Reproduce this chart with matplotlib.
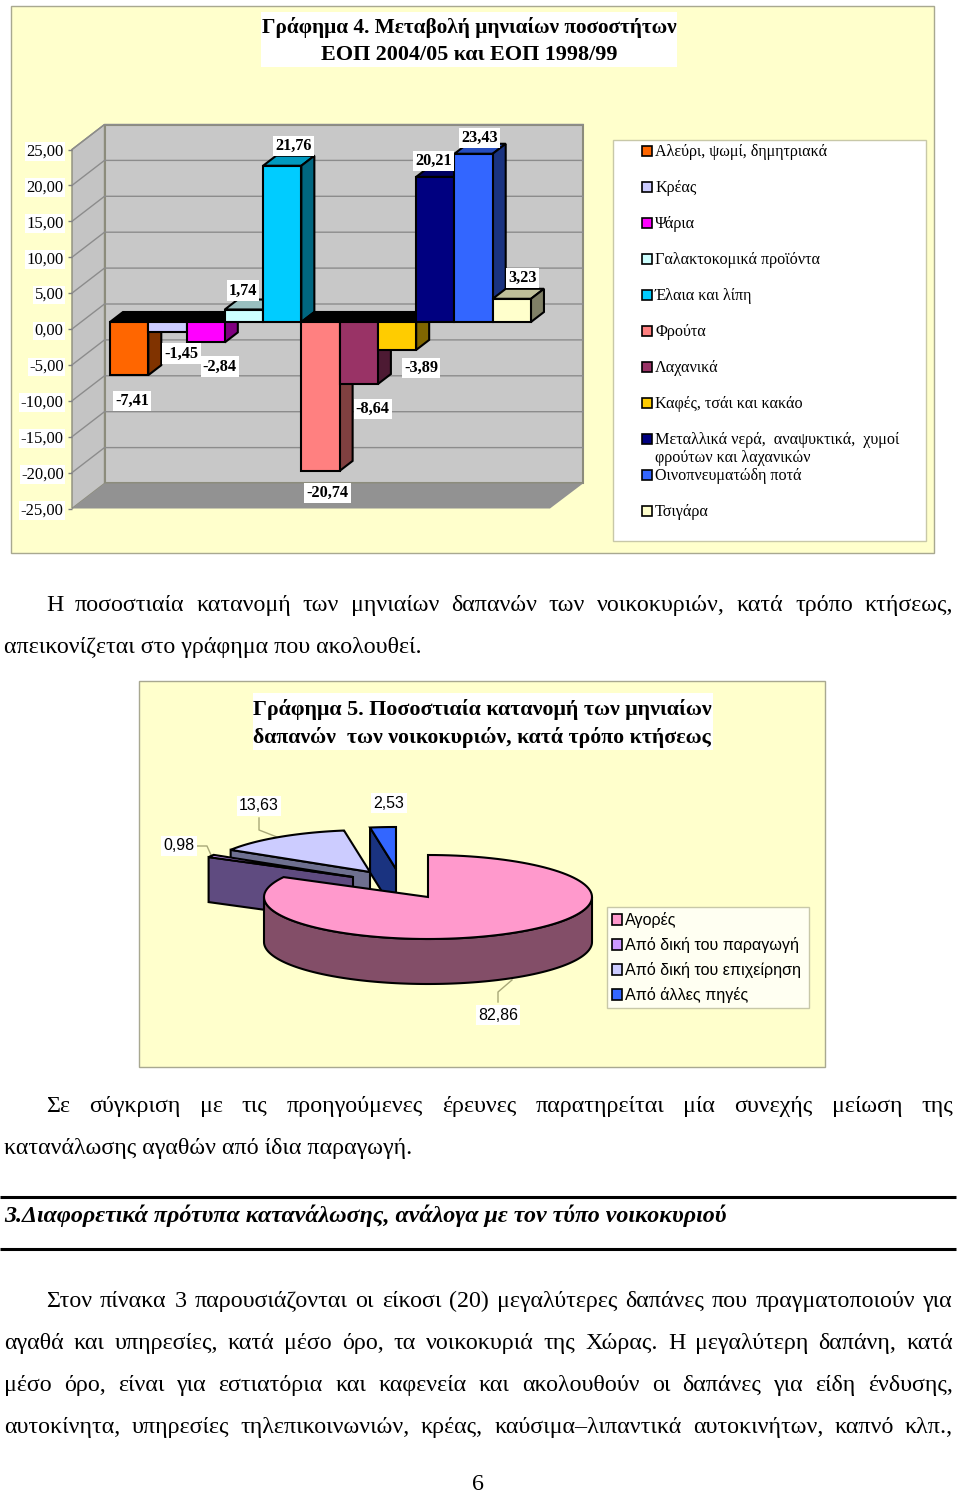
#!/usr/bin/env python3

import numpy as np
import matplotlib
matplotlib.use("Agg")
import matplotlib.pyplot as plt
from matplotlib.patches import Polygon, Rectangle

W, H = 960, 1494

bar_names = ["Αλεύρι, ψωμί, δημητριακά", "Κρέας", "Ψάρια", "Γαλακτοκομικά προϊόντα",
             "Έλαια και λίπη", "Φρούτα", "Λαχανικά", "Καφές, τσάι και κακάο",
             "Μεταλλικά νερά,  αναψυκτικά,  χυμοί\nφρούτων και λαχανικών",
             "Οινοπνευματώδη ποτά", "Τσιγάρα"]
bar_values = [-7.41, -1.45, -2.84, 1.74, 21.76, -20.74, -8.64, -3.89, 20.21, 23.43, 3.23]
bar_colors = ["#FF6600", "#CCCCFF", "#FF00FF", "#CCFFFF", "#00CCFF", "#FF8080",
              "#993366", "#FFCC00", "#000080", "#3366FF", "#FFFFCC"]
bar_label_shift = [(3, 26), (14, 21), (14, 24), (-1, -19), (11, -20), (7, 22),
                   (14, 25), (24, 18), (-2, -16), (6, -16), (11, -21)]
axis_ticks = [25, 20, 15, 10, 5, 0, -5, -10, -15, -20, -25]

pie_names = ["Αγορές", "Από δική του παραγωγή", "Από δική του επιχείρηση", "Από άλλες πηγές"]
pie_values = [82.86, 0.98, 13.63, 2.53]
pie_top = ["#FF99CC", "#CC99FF", "#CCCCFF", "#3366FF"]
pie_side = ["#834E68", "#5F4B80", "#6E7090", "#1A3380"]

PAGE_FONT = "Liberation Serif"
SANS_FONT = "Liberation Sans"
BODY_SIZE = 17.3
CREAM = "#FFFFCC"
BOX_EDGE = "#A8A890"

fig = plt.figure(figsize=(W / 100, H / 100), dpi=100, facecolor="white")
page = fig.add_axes([0, 0, 1, 1])
page.set_xlim(0, W)
page.set_ylim(H, 0)
page.axis("off")


def box(x0, y0, x1, y1, fc, ec=BOX_EDGE, lw=1, z=1):
    page.add_patch(Rectangle((x0, y0), x1 - x0, y1 - y0, fc=fc, ec=ec, lw=lw, zorder=z))


def justified(words, x0, x1, y, size=BODY_SIZE):
    # spread the words over the full column like the printed page
    rend = fig.canvas.get_renderer()
    items = [page.text(x0, y, w, family=PAGE_FONT, fontsize=size, va="baseline") for w in words]
    widths = [t.get_window_extent(rend).width for t in items]
    gap = (x1 - x0 - sum(widths)) / (len(words) - 1)
    x = x0
    for t, w in zip(items, widths):
        t.set_x(x)
        x += w + gap


def plain(s, x, y, size=BODY_SIZE, **kw):
    kw.setdefault("family", PAGE_FONT)
    page.text(x, y, s, fontsize=size, va="baseline", **kw)


# ---- chart 4 frame
box(11, 6, 934, 553, CREAM)
box(261, 12, 677, 67, "white", ec="none", z=2)
page.text(469, 33, "Γράφημα 4. Μεταβολή μηνιαίων ποσοστήτων", family=PAGE_FONT, fontsize=15.3,
          fontweight="bold", ha="center", va="baseline", zorder=3)
page.text(469, 60, "ΕΟΠ 2004/05 και ΕΟΠ 1998/99", family=PAGE_FONT, fontsize=15.9,
          fontweight="bold", ha="center", va="baseline", zorder=3)
box(613, 140, 926, 541, "white", ec="#C8C8A8")

# bars live in their own axes: x = category slot, y = value
PX_PER_SLOT = 38.27
PX_PER_UNIT = 7.18
ZERO_Y = 322
ax = fig.add_axes([110 / W, 1 - (ZERO_Y + 25 * PX_PER_UNIT) / H,
                   11 * PX_PER_SLOT / W, 50 * PX_PER_UNIT / H])
ax.set_xlim(0, 11)
ax.set_ylim(-25, 25)
ax.axis("off")
DX = 13 / PX_PER_SLOT
DY = 10 / PX_PER_UNIT
# wall corners relative to the bar plane
FRONT_X, FRONT_DY = -38 / PX_PER_SLOT, -7 / PX_PER_UNIT
BACK_X, BACK_DY = -5.5 / PX_PER_SLOT, 18 / PX_PER_UNIT
RIGHT_FRONT = (550 - 110) / PX_PER_SLOT
RIGHT_BACK = (583 - 110) / PX_PER_SLOT


def poly(points, fc, ec="black", lw=1.5, z=2):
    ax.add_patch(Polygon(points, closed=True, fc=fc, ec=ec, lw=lw, zorder=z,
                         clip_on=False, joinstyle="miter"))


def shade(color, k):
    return tuple(c * k for c in matplotlib.colors.to_rgb(color))


wall_ec = "#8C8C7C"
poly([(BACK_X, -25 + BACK_DY), (RIGHT_BACK, -25 + BACK_DY), (RIGHT_BACK, 25 + BACK_DY),
      (BACK_X, 25 + BACK_DY)], "#C8C8C8", ec=wall_ec, lw=1.5, z=1)
poly([(FRONT_X, -25 + FRONT_DY), (BACK_X, -25 + BACK_DY), (BACK_X, 25 + BACK_DY),
      (FRONT_X, 25 + FRONT_DY)], "#C4C4C4", ec=wall_ec, lw=1, z=1)
poly([(FRONT_X, -25 + FRONT_DY), (RIGHT_FRONT, -25 + FRONT_DY), (RIGHT_BACK, -25 + BACK_DY),
      (BACK_X, -25 + BACK_DY)], "#929292", ec="none", lw=0, z=1)
for t in axis_ticks[:-1]:
    ax.plot([FRONT_X, BACK_X, RIGHT_BACK], [t + FRONT_DY, t + BACK_DY, t + BACK_DY],
            color="#8C8C8C", lw=1, zorder=1.5, clip_on=False)

for i, (v, c) in enumerate(zip(bar_values, bar_colors)):
    z = 2 + i * 0.01
    if v >= 0:
        poly([(i, v), (i + 1, v), (i + 1 + DX, v + DY), (i + DX, v + DY)], shade(c, 0.75), z=z)
    else:
        poly([(i, 0), (i + 1, 0), (i + 1 + DX, DY), (i + DX, DY)], "black", z=z)
    poly([(i + 1, 0), (i + 1, v), (i + 1 + DX, v + DY), (i + 1 + DX, DY)], shade(c, 0.5), z=z)
for i, (v, c) in enumerate(zip(bar_values, bar_colors)):
    ax.bar(i + 0.5, v, width=1, color=c, edgecolor="black", linewidth=1.5, zorder=3 + i * 0.01,
           clip_on=False)
for i, (v, sh) in enumerate(zip(bar_values, bar_label_shift)):
    ax.annotate(f"{v:.2f}".replace(".", ","), (i + 0.5, v), xytext=(sh[0], -sh[1]),
                textcoords="offset pixels", ha="center", va="center", family=PAGE_FONT,
                fontsize=11.7, fontweight="bold", zorder=6, annotation_clip=False,
                bbox=dict(fc="white", ec="none", pad=1.5))

# value axis sits on the front edge of the left wall
axv = fig.add_axes([72 / W, 1 - 508.5 / H, 1 / W, 359 / H])
axv.patch.set_visible(False)
axv.set_ylim(-25, 25)
axv.set_xticks([])
axv.set_yticks(axis_ticks)
axv.set_yticklabels([f"{t:.2f}".replace(".", ",") for t in axis_ticks], family=PAGE_FONT,
                    fontsize=12, bbox=dict(fc="white", ec="none", pad=1))
axv.tick_params(axis="y", length=3, width=1, color="#808080", pad=3)
for s in ["top", "right", "bottom", "left"]:
    axv.spines[s].set_visible(False)

legend_rows = [151, 187, 223, 259, 295, 331, 367, 403, 439, 475, 511]
for name, c, y in zip(bar_names, bar_colors, legend_rows):
    box(642, y - 5, 652, y + 5, c, ec="black", lw=1.2, z=2)
    page.text(655, y - 7, name, family=PAGE_FONT, fontsize=11.6, va="top", linespacing=1.2, zorder=3)

# ---- paragraph between the charts
justified("Η ποσοστιαία κατανομή των μηνιαίων δαπανών των νοικοκυριών, κατά τρόπο κτήσεως,".split(),
          46, 953, 611)
plain("απεικονίζεται στο γράφημα που ακολουθεί.", 4, 653)

# ---- chart 5 frame
box(139, 681, 825, 1067, CREAM)
box(253, 693, 713, 750, "white", ec="none", z=2)
page.text(253, 715, "Γράφημα 5. Ποσοστιαία κατανομή των μηνιαίων", family=PAGE_FONT, fontsize=15.85,
          fontweight="bold", va="baseline", zorder=3)
page.text(253, 743, "δαπανών  των νοικοκυριών, κατά τρόπο κτήσεως", family=PAGE_FONT, fontsize=15.75,
          fontweight="bold", va="baseline", zorder=3)

# 3d pie: angles come from the values, clockwise from 12 o'clock
CX, CY, RX, RY, THICK = 428, 897, 164, 42, 45
pie_offset = [(0, 0), (-75, -20), (-58, -25), (-32, -28)]
pie_order = [3, 2, 1, 0]
edges = np.cumsum([0] + pie_values) / sum(pie_values) * 2 * np.pi


def rim(a0, a1, cx, cy):
    t = np.linspace(a0, a1, 120)
    return np.column_stack([cx + RX * np.sin(t), cy - RY * np.cos(t)])


for z, k in enumerate(pie_order):
    cx, cy = CX + pie_offset[k][0], CY + pie_offset[k][1]
    a0, a1 = edges[k], edges[k + 1]
    z0 = 3 + z
    if k == 0:
        front = rim(np.pi / 2, 3 * np.pi / 2, cx, cy)
        side = np.vstack([front, front[::-1] + [0, THICK]])
        page.add_patch(Polygon(side, fc=pie_side[k], ec="black", lw=1.5, zorder=z0))
    else:
        p = rim(a0, a0, cx, cy)[0]
        side = [(cx, cy), p, (p[0], p[1] + THICK), (cx, cy + THICK)]
        page.add_patch(Polygon(side, fc=pie_side[k], ec="black", lw=1.5, zorder=z0))
    top = np.vstack([[(cx, cy)], rim(a0, a1, cx, cy)])
    page.add_patch(Polygon(top, fc=pie_top[k], ec="black", lw=1.5, zorder=z0 + 0.1,
                           joinstyle="miter"))

leaders = [([498, 498, 512], [1002, 992, 980]), ([197, 207, 211], [846, 846, 855]),
           ([259, 259, 277], [818, 830, 837])]
for xs, ys in leaders:
    page.plot(xs, ys, color="#A8A878", lw=1, zorder=2.5)
pie_label_xy = [(498, 1015), (179, 846), (259, 806), (389, 803)]
for v, (x, y) in zip(pie_values, pie_label_xy):
    page.text(x, y, f"{v:.2f}".replace(".", ","), family=SANS_FONT, fontsize=11.5, ha="center",
              va="center", zorder=9, bbox=dict(fc="white", ec="none", pad=1.5))

box(607, 907, 809, 1008, "#FFFFF2", ec="#C8C8A8", z=9)
for name, c, y in zip(pie_names, pie_top, [920, 945, 970, 995]):
    box(612, y - 6, 622, y + 5, c, ec="black", lw=1.2, z=10)
    page.text(625, y, name, family=SANS_FONT, fontsize=11.6, va="center", zorder=10)

# ---- rest of the page
justified("Σε σύγκριση με τις προηγούμενες έρευνες παρατηρείται μία συνεχής μείωση της".split(),
          46, 953, 1112)
plain("κατανάλωσης αγαθών από ίδια παραγωγή.", 4, 1154)

page.plot([0, 956], [1197, 1197], color="black", lw=2.2, solid_capstyle="butt")
page.plot([0, 956], [1249, 1249], color="black", lw=2.2, solid_capstyle="butt")
plain("3.Διαφορετικά πρότυπα κατανάλωσης, ανάλογα με τον τύπο νοικοκυριού", 4, 1222,
      fontweight="bold", fontstyle="italic")

justified("Στον πίνακα 3 παρουσιάζονται οι είκοσι (20) μεγαλύτερες δαπάνες που πραγματοποιούν για".split(),
          46, 953, 1307)
justified("αγαθά και υπηρεσίες, κατά μέσο όρο, τα νοικοκυριά της Χώρας.  Η μεγαλύτερη δαπάνη, κατά".split(),
          4, 953, 1349)
justified("μέσο όρο, είναι για εστιατόρια και καφενεία και ακολουθούν οι δαπάνες για είδη ένδυσης,".split(),
          4, 953, 1391)
justified("αυτοκίνητα, υπηρεσίες τηλεπικοινωνιών, κρέας, καύσιμα–λιπαντικά αυτοκινήτων, καπνό κλπ.,".split(),
          4, 953, 1433)
plain("6", 478, 1490, ha="center")

fig.savefig("out.png", dpi=100, facecolor="white")
